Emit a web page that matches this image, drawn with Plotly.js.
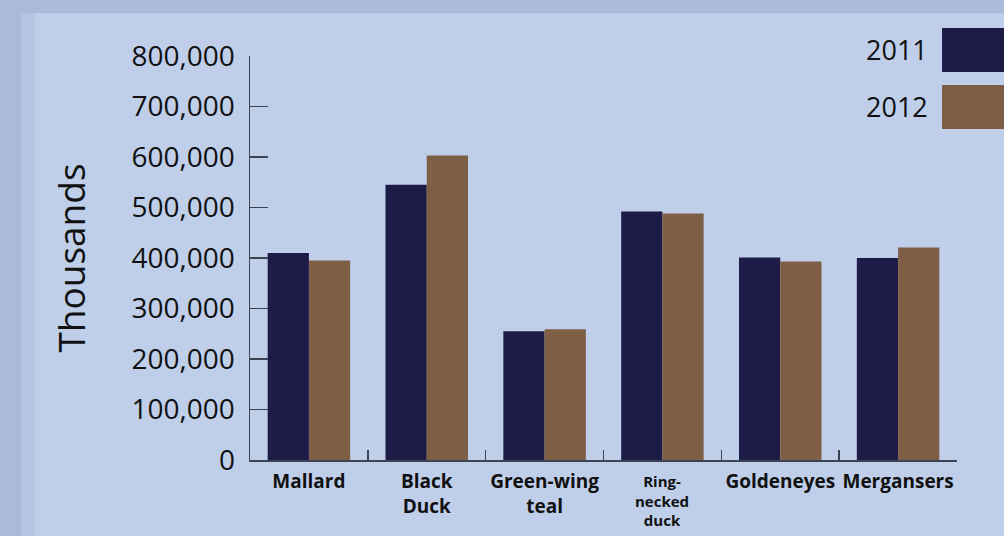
<!DOCTYPE html>
<html>
<head>
<meta charset="utf-8">
<script src="https://cdn.plot.ly/plotly-3.0.1.min.js"></script>
<style>
  html, body { margin: 0; padding: 0; background: #a9badb; }
  #chart { width: 1004px; height: 536px; }
</style>
</head>
<body>
<div id="chart"></div>
<script>
// ---- data ----
const categories = ["Mallard", "Black Duck", "Green-wing teal", "Ring-necked duck", "Goldeneyes", "Mergansers"];
// The small three-line label of "Ring-necked duck" is drawn as an annotation anchored on its category
const tickLabels = ["Mallard", "Black<br>Duck", "Green-wing<br>teal", "", "Goldeneyes", "Mergansers"];
const smallLabelCategory = "Ring-necked duck";
const smallLabelText = "Ring-<br>necked<br>duck";
const seriesNames = ["2011", "2012"];
const values2011 = [410000, 545000, 255000, 492000, 401000, 400000];
const values2012 = [395000, 603000, 259000, 488000, 393000, 421000];
const yTickVals = [0, 100000, 200000, 300000, 400000, 500000, 600000, 700000, 800000];

const colors = ["#1d1c49", "#7e5f46"];
const axisColor = "#3b4450";
const font = "Open Sans, Noto Sans, sans-serif";

const traces = [
  { type: "bar", name: seriesNames[0], x: categories, y: values2011, marker: { color: colors[0] }, showlegend: false },
  { type: "bar", name: seriesNames[1], x: categories, y: values2012, marker: { color: colors[1] }, showlegend: false }
];

const layout = {
  width: 1004, height: 536,
  margin: { l: 250, r: 47, t: 56, b: 76 },
  paper_bgcolor: "#a9badb",
  plot_bgcolor: "rgba(0,0,0,0)",
  barmode: "group",
  bargap: 0.3,
  bargroupgap: 0,
  font: { family: font, color: "#111111" },
  xaxis: {
    type: "category",
    tickvals: categories,
    ticktext: tickLabels,
    tickangle: 0,
    automargin: false,
    showline: true, linecolor: axisColor, linewidth: 1.5,
    ticks: "inside", tickson: "boundaries", ticklen: 10, tickwidth: 1.5, tickcolor: axisColor,
    tickfont: { family: font, size: 19, weight: "bold", color: "#111111" },
    ticklabelstandoff: 4,
    showgrid: false, zeroline: false, fixedrange: true
  },
  yaxis: {
    range: [0, 800000],
    tickvals: yTickVals,
    tickformat: ",d",
    automargin: false,
    showline: true, linecolor: axisColor, linewidth: 1.5,
    ticks: "inside", ticklen: 18, tickwidth: 1.5, tickcolor: axisColor,
    tickfont: { family: font, size: 28, color: "#111111" },
    ticklabelstandoff: 8,
    showgrid: false, zeroline: false, fixedrange: true,
    title: { text: "Thousands", font: { family: font, size: 37, color: "#111111" }, standoff: 34 }
  },
  shapes: [
    { type: "rect", xref: "paper", yref: "paper", x0: -0.324, x1: -0.30, y0: -0.4, y1: 1.106, fillcolor: "#b5c6e5", line: { width: 0 }, layer: "below" },
    { type: "rect", xref: "paper", yref: "paper", x0: -0.304, x1: 1.2, y0: -0.4, y1: 1.106, fillcolor: "#bfcfea", line: { width: 0 }, layer: "below" },
    { type: "rect", xref: "paper", yref: "paper", x0: 0.9788, x1: 1.2, y0: 0.9604, y1: 1.0693, fillcolor: colors[0], line: { width: 0 } },
    { type: "rect", xref: "paper", yref: "paper", x0: 0.9788, x1: 1.2, y0: 0.8193, y1: 0.9282, fillcolor: colors[1], line: { width: 0 } }
  ],
  annotations: [
    { xref: "paper", yref: "paper", x: 0.9618, y: 1.0149, xanchor: "right", yanchor: "middle", text: seriesNames[0], showarrow: false, font: { family: font, size: 27, color: "#111111" } },
    { xref: "paper", yref: "paper", x: 0.9618, y: 0.8738, xanchor: "right", yanchor: "middle", text: seriesNames[1], showarrow: false, font: { family: font, size: 27, color: "#111111" } },
    { xref: "x", yref: "paper", x: smallLabelCategory, y: -0.022, xanchor: "center", yanchor: "top", text: smallLabelText, showarrow: false, font: { family: font, size: 15, weight: "bold", color: "#111111" } }
  ]
};

Plotly.newPlot("chart", traces, layout, { displayModeBar: false, staticPlot: true });
</script>
</body>
</html>
